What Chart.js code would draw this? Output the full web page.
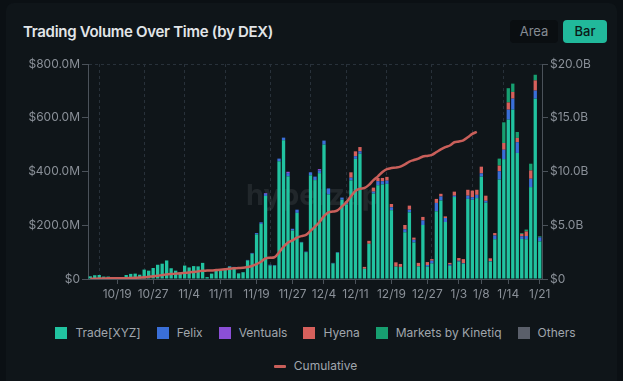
<!DOCTYPE html>
<html lang="en">
<head>
<meta charset="UTF-8">
<title>Trading Volume Over Time (by DEX)</title>
<script src="https://cdn.jsdelivr.net/npm/chart.js"></script>
<style>
  html, body { margin: 0; padding: 0; }
  body { width: 623px; height: 381px; background: #0b1014; overflow: hidden; position: relative;
         font-family: Inter, "Noto Sans", sans-serif; }
  .card { position: absolute; left: 6px; top: 3px; width: 611px; height: 392px; background: #0f1519; border-radius: 8px; }
  h1 { position: absolute; left: 23px; top: 22px; margin: 0; font-size: 15px; font-weight: 600; line-height: 19px;
       color: #e2e5e8; letter-spacing: -0.3px; }
  .toggle span { position: absolute; top: 20px; height: 23px; line-height: 23px; font-size: 13px; text-align: center; border-radius: 4px; }
  .toggle .area { left: 510px; width: 48px; background: #0a0e11; color: #858b93; }
  .toggle .bar { left: 563px; width: 44px; background: #21b99b; color: #0b1a17; font-weight: 500; }
  .chart-box { position: absolute; left: 0; top: 0; width: 623px; height: 310px; }
  .legend { position: absolute; left: 4px; width: 623px; display: flex; justify-content: center; gap: 16px;
            font-size: 12px; color: #a0a6ad; line-height: 16px; }
  .legend .item { display: flex; align-items: center; gap: 8px; white-space: nowrap; }
  .legend .sw { width: 12px; height: 12px; }
  .legend .ln { width: 12px; height: 3px; border-radius: 1px; }
</style>
</head>
<body>
  <div class="card"></div>
  <h1>Trading Volume Over Time (by DEX)</h1>
  <div class="toggle"><span class="area">Area</span><span class="bar">Bar</span></div>
  <div class="chart-box"><canvas id="volumeChart"></canvas></div>
  <div class="legend" id="legendBars" style="top:325px"></div>
  <div class="legend" id="legendLine" style="top:358px"></div>

<script>
// one bar per day, 10/13 .. 1/21
const dates = [
  '10/13','10/14','10/15','10/16','10/17','10/18','10/19','10/20','10/21','10/22',
  '10/23','10/24','10/25','10/26','10/27','10/28','10/29','10/30','10/31','11/1',
  '11/2','11/3','11/4','11/5','11/6','11/7','11/8','11/9','11/10','11/11',
  '11/12','11/13','11/14','11/15','11/16','11/17','11/18','11/19','11/20','11/21',
  '11/22','11/23','11/24','11/25','11/26','11/27','11/28','11/29','11/30','12/1',
  '12/2','12/3','12/4','12/5','12/6','12/7','12/8','12/9','12/10','12/11',
  '12/12','12/13','12/14','12/15','12/16','12/17','12/18','12/19','12/20','12/21',
  '12/22','12/23','12/24','12/25','12/26','12/27','12/28','12/29','12/30','12/31',
  '1/1','1/2','1/3','1/4','1/5','1/6','1/7','1/8','1/9','1/10',
  '1/11','1/12','1/13','1/14','1/15','1/16','1/17','1/18','1/19','1/20',
  '1/21'
];

// dates that get an x label, and dates with a dashed grid line
const tickDates = ['10/19','10/27','11/4','11/11','11/19','11/27','12/4','12/11','12/19','12/27','1/3','1/8','1/14','1/21'];
const gridDates = ['10/15','10/25','11/3','11/12','11/22','12/1','12/9','12/18','12/28','1/6','1/13'];

// daily volume, $M
const tradeXyz = [
  10,14,15,9,9,2,3,7,15,19,
  20,16,35,31,41,53,57,69,40,31,
  25,50,43,48,47,60,7,20,30,32,
  35,46,43,21,25,69,94,166,205,309,
  50,50,438,516,382,180,246,136,100,386,
  368,394,500,315,58,98,295,278,367,447,
  466,38,131,318,349,352,354,256,46,45,
  174,248,136,47,201,46,58,252,292,212,
  49,305,65,57,298,295,301,381,284,65,
  148,370,446,593,630,469,149,148,342,671,
  140
];
const felix = [
  0,0,0,0,0,0,0,0,0,0,
  0,0,0,0,0,0,0,0,0,0,
  0,0,0,0,0,0,0,0,0,0,
  0,2,2,0,1,2,3,5,6,8,
  3,2,10,10,12,7,12,2,2,11,
  13,10,15,22,2,2,8,5,10,10,
  9,0,0,7,15,12,12,11,0,0,
  11,10,10,0,17,6,10,31,15,15,
  5,5,3,2,12,9,12,12,7,2,
  14,31,35,37,41,40,10,12,31,30,
  15
];
const ventuals = [
  0,0,0,0,0,0,0,0,0,0,
  0,0,0,0,0,0,0,0,0,0,
  0,0,0,0,0,0,0,0,0,0,
  0,0,0,0,0,0,0,0,0,3,
  0,0,0,0,5,0,0,0,0,0,
  0,5,0,0,0,0,0,0,0,0,
  0,0,0,0,0,0,0,0,0,0,
  0,0,0,0,0,0,0,0,0,0,
  0,0,0,0,0,0,0,0,0,0,
  0,0,0,0,0,0,0,0,0,0,
  0
];
const hyena = [
  0,0,0,0,0,0,0,0,0,0,
  0,0,0,0,0,0,0,0,0,0,
  0,0,0,0,0,0,0,0,0,0,
  0,0,0,0,0,0,0,0,0,0,
  0,0,0,0,0,0,0,0,0,0,
  0,0,0,0,0,0,0,6,20,18,
  16,7,11,15,12,12,14,12,16,11,
  16,15,8,13,13,11,6,15,10,6,
  6,15,10,15,22,25,19,25,19,10,
  9,21,25,27,25,16,9,17,31,38,
  0
];
const kinetiq = [
  0,0,0,0,0,0,0,0,0,0,
  0,0,0,0,0,0,0,0,0,0,
  0,0,0,0,0,0,0,0,0,0,
  0,0,0,0,0,0,0,0,0,0,
  0,0,0,0,0,0,0,0,0,0,
  0,0,0,0,0,0,0,0,0,0,
  0,0,0,0,0,0,0,0,0,0,
  0,0,0,0,0,0,0,0,0,0,
  0,0,0,0,0,0,0,0,0,0,
  0,26,77,53,31,22,3,7,25,21,
  4
];
const others = [
  0,0,0,0,0,0,0,0,0,0,
  0,0,0,0,0,0,0,0,0,0,
  0,0,0,0,0,0,0,0,0,0,
  0,0,0,0,0,0,0,0,0,0,
  0,0,0,0,0,0,0,0,0,0,
  0,0,0,0,0,0,0,0,0,0,
  0,0,0,0,0,0,0,0,0,0,
  0,0,0,0,0,0,0,0,0,0,
  0,0,0,0,0,0,0,0,0,0,
  0,0,0,0,0,0,0,0,0,0,
  0
];

// cumulative volume, $B (line stops at 1/7)
const cumulative = [
  0.01,0.02,0.04,0.05,0.06,0.06,0.06,0.07,0.08,0.10,
  0.12,0.14,0.17,0.21,0.25,0.30,0.36,0.43,0.47,0.50,
  0.52,0.57,0.61,0.66,0.71,0.77,0.78,0.80,0.83,0.86,
  0.90,0.95,0.99,1.02,1.04,1.11,1.21,1.38,1.60,1.92,
  1.97,2.02,2.47,3.00,3.40,3.60,3.85,3.99,4.10,4.48,
  4.87,5.30,5.85,6.20,6.27,6.38,6.75,7.15,7.70,8.20,
  8.40,8.46,8.75,9.20,9.55,9.95,10.22,10.32,10.36,10.45,
  10.66,10.92,11.07,11.20,11.40,11.45,11.55,11.80,12.05,12.26,
  12.42,12.72,12.79,12.90,13.18,13.50,13.68
];

const axisColor = '#4b525a';
const gridColor = '#28313a';
const tickFont = { family: 'Inter', size: 12 };
const tickColor = '#8a9098';

const barSeries = [
  { label: 'Trade[XYZ]', data: tradeXyz, color: '#21c3a0' },
  { label: 'Felix', data: felix, color: '#3a6fd8' },
  { label: 'Ventuals', data: ventuals, color: '#8b4fd6' },
  { label: 'Hyena', data: hyena, color: '#d6605c' },
  { label: 'Markets by Kinetiq', data: kinetiq, color: '#179f70' },
  { label: 'Others', data: others, color: '#5a5f6a' }
];
const lineColor = '#c95f5a';

// faint watermark behind the bars
const watermark = {
  id: 'watermark',
  beforeDatasetsDraw(chart) {
    const ctx = chart.ctx;
    ctx.save();
    ctx.font = '700 29px Inter';
    ctx.fillStyle = 'rgba(255,255,255,0.08)';
    ctx.textAlign = 'center';
    ctx.textBaseline = 'alphabetic';
    ctx.fillText('hyperzap', 313, 205);
    ctx.restore();
  }
};

new Chart(document.getElementById('volumeChart'), {
  type: 'bar',
  data: {
    labels: dates,
    datasets: [
      {
        type: 'line',
        label: 'Cumulative',
        data: cumulative,
        yAxisID: 'y1',
        borderColor: lineColor,
        borderWidth: 2.5,
        pointRadius: 0,
        cubicInterpolationMode: 'monotone',
        order: 0
      },
      ...barSeries.map(s => ({
        label: s.label,
        data: s.data,
        backgroundColor: s.color,
        yAxisID: 'y',
        stack: 'dex',
        categoryPercentage: 1,
        barPercentage: 0.74,
        order: 1
      }))
    ]
  },
  plugins: [watermark],
  options: {
    responsive: true,
    maintainAspectRatio: false,
    animation: false,
    devicePixelRatio: 1,
    layout: { padding: { top: 64, left: 0, right: 0, bottom: 0 } },
    plugins: {
      legend: { display: false },
      tooltip: { enabled: false }
    },
    scales: {
      x: {
        stacked: true,
        offset: true,
        afterFit: s => { s.height = 31; },
        grid: {
          offset: false,
          color: c => gridDates.includes(dates[c.index]) ? gridColor : 'transparent',
          tickColor: c => tickDates.includes(dates[c.index]) ? axisColor : 'transparent',
          tickLength: 5
        },
        border: { color: axisColor, dash: [3, 3] },
        ticks: {
          autoSkip: false,
          maxRotation: 0,
          padding: 3,
          color: tickColor,
          font: tickFont,
          callback: (v, i) => tickDates.includes(dates[i]) ? dates[i] : ''
        }
      },
      y: {
        position: 'left',
        stacked: true,
        min: 0,
        max: 800,
        afterFit: s => { s.width = 88; },
        grid: {
          color: c => c.tick && c.tick.value === 800 ? gridColor : 'transparent',
          tickColor: axisColor,
          tickLength: 6
        },
        border: { color: axisColor, dash: [3, 3] },
        ticks: {
          stepSize: 200,
          padding: 2,
          color: tickColor,
          font: tickFont,
          callback: v => v === 0 ? '$0' : '$' + v.toFixed(1) + 'M'
        }
      },
      y1: {
        position: 'right',
        min: 0,
        max: 20,
        afterFit: s => { s.width = 81; },
        grid: { drawOnChartArea: false, tickColor: axisColor, tickLength: 6 },
        border: { color: axisColor },
        ticks: {
          stepSize: 5,
          padding: 2,
          color: tickColor,
          font: tickFont,
          callback: v => v === 0 ? '$0' : '$' + v.toFixed(1) + 'B'
        }
      }
    }
  }
});

// legend: bar series on the first row, cumulative line on the second
const legendBars = document.getElementById('legendBars');
barSeries.forEach(s => {
  legendBars.insertAdjacentHTML('beforeend',
    `<div class="item"><span class="sw" style="background:${s.color}"></span>${s.label}</div>`);
});
document.getElementById('legendLine').innerHTML =
  `<div class="item"><span class="ln" style="background:${lineColor}"></span>Cumulative</div>`;
</script>
</body>
</html>
